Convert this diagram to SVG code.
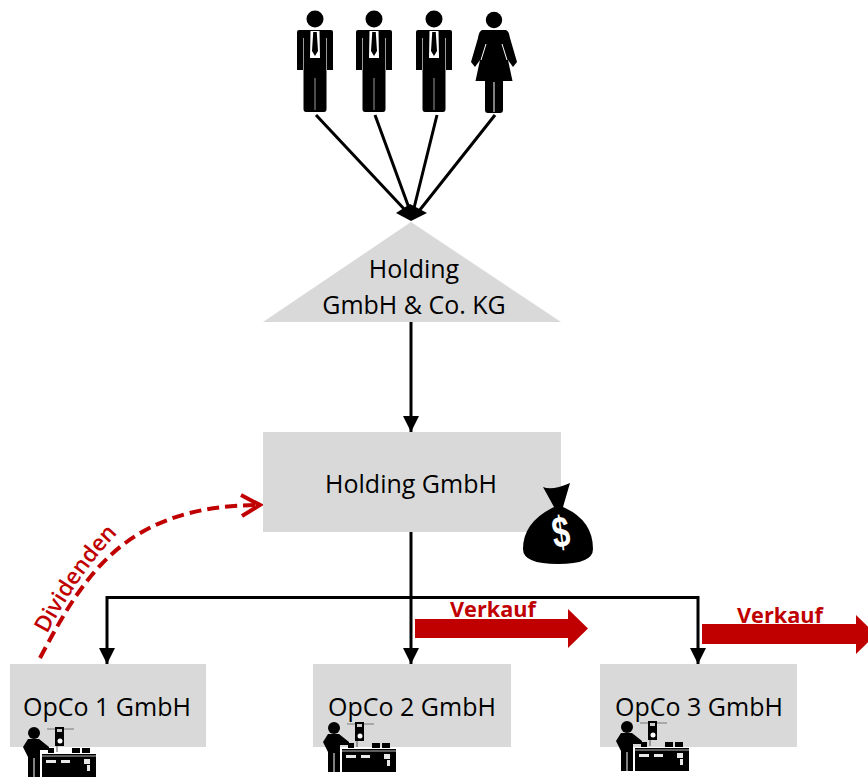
<svg xmlns="http://www.w3.org/2000/svg" xmlns:xlink="http://www.w3.org/1999/xlink" width="868" height="777" viewBox="0 0 868 777">
<style>
.box{fill:#d9d9d9}
.t{font-family:"Open Sans","Noto Sans","Liberation Sans",sans-serif;font-size:25px;fill:#000;text-anchor:middle}
.r{font-family:"Open Sans","Noto Sans","Liberation Sans",sans-serif;font-size:21.700px;font-weight:700;fill:#c00000;text-anchor:middle}
.d{font-size:22.500px;font-weight:600}
.l{fill:none;stroke:#000;stroke-width:3}
.red{fill:#c00000}
</style>
<defs>
<marker id="tri" markerUnits="userSpaceOnUse" markerWidth="16" markerHeight="16" refX="16" refY="8" orient="auto"><path d="M0,0L16,8L0,16Z" fill="#000"/></marker>
<g id="man">
<circle cx="0" cy="19" r="8.500" fill="#000"/>
<path d="M-16,30H16Q18,30 18,32V70H11.500V109Q11.500,112 9,112H-9Q-11.500,112 -11.500,109V70H-18V32Q-18,30 -16,30Z" fill="#000"/>
<path d="M-11.500,38V70M11.500,38V70M0,78V110" stroke="#fff" stroke-width="1" fill="none" opacity=".6"/>
<path d="M-4.500,31H4.500L5,58H-5Z" fill="#fff"/>
<path d="M-1.800,32H1.800L2,36L3,51L0,56L-3,51L-2,36Z" fill="#000"/>
<path d="M-5.500,58H5.500V64H-5.500Z" fill="#000"/>
</g>
<g id="woman">
<circle cx="0" cy="20" r="8.200" fill="#000"/>
<path d="M-12,30H12Q15,31 16,38L23,62L19,67L14,60L18.500,81H9V110Q9,113 6,113H-6Q-9,113 -9,110V81H-18.500L-14,60L-19,67L-23,62L-16,38Q-15,31 -12,30Z" fill="#000"/>
<path d="M-8,44L-13,60M8,44L13,60M0,82V112" stroke="#fff" stroke-width="1" fill="none"/>
</g>
<g id="machine">
<circle cx="34" cy="733" r="6" fill="#000"/>
<path d="M28,739H39L49,747V750H40V777H28V757L23,747Z" fill="#000"/>
<path d="M34,758V777" stroke="#fff" stroke-width="1"/>
<path d="M47,729H74" stroke="#777" stroke-width="1"/>
<rect x="55" y="727" width="9" height="19" fill="#000"/>
<rect x="57" y="729" width="5" height="3" fill="#ccc"/>
<circle cx="60" cy="741" r="2.500" fill="#fff"/>
<path d="M57,746V752" stroke="#555" stroke-width="1"/>
<path d="M48,748H54V753H48ZM72,748H80V753H72ZM82,748H90V753H82Z" fill="#000"/>
<rect x="42" y="754" width="54" height="23" fill="#000"/>
<path d="M42,756H96" stroke="#bbb" stroke-width="1"/>
<path d="M46,760H56V763H46ZM61,760H70V763H61ZM84,759H90V764H84ZM87,765H90V771H87Z" fill="#e8e8e8"/>
</g>
</defs>
<g id="connectors">
<path class="l" d="M316,115L406,211M375,115L409,208M437,115L414,208M495,115L419,211"/>
<path d="M396,213L410,204L427,213L411,221Z" fill="#000"/>
<path class="l" d="M411,322V432" marker-end="url(#tri)"/>
<path class="l" d="M411,532V664" marker-end="url(#tri)"/>
<path class="l" d="M411,597.500H107V664" marker-end="url(#tri)"/>
<path class="l" d="M411,597.500H698V664" marker-end="url(#tri)"/>
<path d="M40,658C84,575 125,505 261,505" fill="none" stroke="#c00000" stroke-width="4" stroke-dasharray="12,6"/>
<path d="M241,495L260,505L242,516" fill="none" stroke="#c00000" stroke-width="4"/>
</g>
<g id="n-people">
<use xlink:href="#man" href="#man" x="315"/>
<use xlink:href="#man" href="#man" x="374"/>
<use xlink:href="#man" href="#man" x="434"/>
<use xlink:href="#woman" href="#woman" x="494"/>
</g>
<g id="n-kg">
<path class="box" d="M411,222L561,322H263Z"/>
<text class="t" x="414" y="278">Holding</text>
<text class="t" x="414" y="314">GmbH &amp; Co. KG</text>
</g>
<g id="n-holding">
<rect class="box" x="263" y="432" width="298" height="100"/>
<text class="t" x="411" y="493">Holding GmbH</text>
</g>
<g id="n-bag">
<path d="M543,487Q552,491 570,483L563,507Q593,520 593,549Q593,564 558,564Q523,564 523,549Q523,522 554,507Z" fill="#000"/>
<text transform="translate(563,547) rotate(-8) scale(.75,1.05)" font-family="Liberation Sans,sans-serif" font-size="42" font-weight="700" fill="#fff" text-anchor="middle">$</text>
</g>
<g id="n-opco1">
<rect class="box" x="10" y="664" width="196" height="83"/>
<text class="t" x="107" y="716">OpCo 1 GmbH</text>
<use xlink:href="#machine" href="#machine"/>
</g>
<g id="n-opco2">
<rect class="box" x="313" y="664" width="198" height="83"/>
<text class="t" x="412" y="716">OpCo 2 GmbH</text>
<use xlink:href="#machine" href="#machine" x="300" y="-5"/>
</g>
<g id="n-opco3">
<rect class="box" x="600" y="664" width="197" height="83"/>
<text class="t" x="699" y="716">OpCo 3 GmbH</text>
<use xlink:href="#machine" href="#machine" x="593" y="-6"/>
</g>
<g id="sales">
<path class="red" d="M415,619H568V609L588,628.500L568,648V638H415Z"/>
<text class="r" x="493" y="617">Verkauf</text>
<path class="red" d="M702,624H856V615L876,634.500L856,654V644H702Z"/>
<text class="r" x="780" y="623">Verkauf</text>
</g>
<path id="dp" d="M46,636Q80,572 119,532" fill="none"/>
<text class="r d"><textPath href="#dp" xlink:href="#dp" startOffset="50%">Dividenden</textPath></text>
</svg>
